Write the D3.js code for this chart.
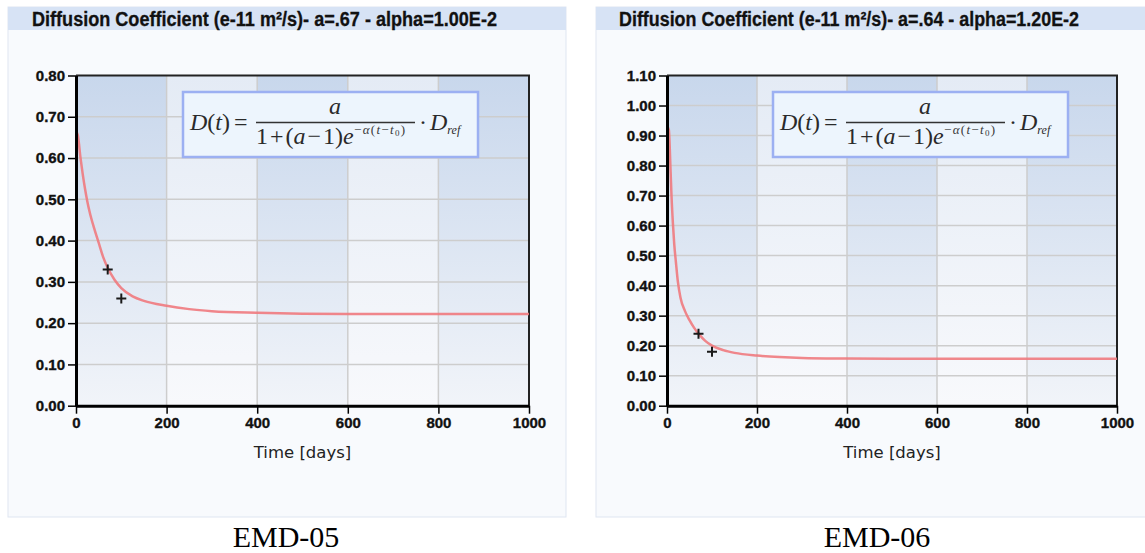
<!DOCTYPE html>
<html>
<head>
<meta charset="utf-8">
<script src="https://cdn.jsdelivr.net/npm/d3@7"></script>
<style>
  html, body { margin: 0; padding: 0; background: #ffffff; }
  svg { display: block; }
</style>
</head>
<body>
<svg id="chart" width="1145" height="553"></svg>
<script>
// ---- data ----------------------------------------------------------------
const xTicks = [0, 200, 400, 600, 800, 1000];

// fitted diffusion-coefficient curves, sampled in days
const curveDaysEMD05 = [0, 4, 10, 15, 20, 25, 30, 40, 50, 60, 70, 85, 100, 125, 150,
                        200, 250, 300, 400, 500, 600, 800, 1000];
const curveEMD05 = [0.665, 0.655, 0.60, 0.56, 0.525, 0.495, 0.47, 0.43, 0.395, 0.36,
                    0.334, 0.305, 0.285, 0.265, 0.254, 0.242, 0.234, 0.229, 0.225,
                    0.223, 0.222, 0.222, 0.222];
const curveDaysEMD06 = [0, 4, 8, 10, 13, 16, 20, 24, 30, 40, 50, 60, 70, 85, 100, 125,
                        150, 200, 250, 300, 400, 500, 600, 800, 1000];
const curveEMD06 = [0.93, 0.92, 0.78, 0.70, 0.61, 0.54, 0.475, 0.415, 0.36, 0.315,
                    0.285, 0.26, 0.24, 0.216, 0.200, 0.185, 0.176, 0.167, 0.162,
                    0.159, 0.157, 0.156, 0.156, 0.156, 0.156];

// measured values
const measuredDays = [70, 100];
const measuredEMD05 = [0.33, 0.26];
const measuredEMD06 = [0.24, 0.18];

const yTicksEMD05 = [0, 0.1, 0.2, 0.3, 0.4, 0.5, 0.6, 0.7, 0.8];
const yTicksEMD06 = [0, 0.1, 0.2, 0.3, 0.4, 0.5, 0.6, 0.7, 0.8, 0.9, 1.0, 1.1];

const titleEMD05 = "Diffusion Coefficient (e-11 m\u00B2/s)- a=.67  - alpha=1.00E-2";
const titleEMD06 = "Diffusion Coefficient (e-11 m\u00B2/s)- a=.64  - alpha=1.20E-2";
const captions = ["EMD-05", "EMD-06"];

// ---- layout ----------------------------------------------------------------
const panels = [
  { panelX: 8, panelW: 558, titleX: 32, titleW: 465, plotL: 76, plotR: 529,
    formulaX: 183, caption: captions[0], title: titleEMD05, yMax: 0.8,
    yTicks: yTicksEMD05, days: curveDaysEMD05, curve: curveEMD05, measured: measuredEMD05 },
  { panelX: 596, panelW: 560, titleX: 619, titleW: 460, plotL: 667, plotR: 1117,
    formulaX: 773, caption: captions[1], title: titleEMD06, yMax: 1.1,
    yTicks: yTicksEMD06, days: curveDaysEMD06, curve: curveEMD06, measured: measuredEMD06 }
];
const plotTop = 75.5, plotBottom = 405.7;
const panelTop = 7, panelBottom = 517;

const svg = d3.select("#chart");
const defs = svg.append("defs");

function grad(id, top, bottom) {
  const g = defs.append("linearGradient").attr("id", id)
    .attr("x1", 0).attr("y1", 0).attr("x2", 0).attr("y2", 1);
  g.append("stop").attr("offset", "0%").attr("stop-color", top);
  g.append("stop").attr("offset", "100%").attr("stop-color", bottom);
}
grad("bandDark", "#c8d7ec", "#f1f4f9");
grad("bandLight", "#e4ebf5", "#f8f9fc");

panels.forEach((p, i) => {
  const g = svg.append("g");
  const clipId = "plotClip" + i;

  // panel background and title strip
  g.append("rect").attr("x", p.panelX).attr("y", panelTop)
    .attr("width", p.panelW).attr("height", panelBottom - panelTop)
    .attr("fill", "#f8fafd").attr("stroke", "#dfe6f1").attr("stroke-width", 1);
  g.append("rect").attr("x", p.panelX).attr("y", panelTop)
    .attr("width", p.panelW).attr("height", 23)
    .attr("fill", "#d7e3f5");
  g.append("text").attr("x", p.titleX).attr("y", 25.5)
    .attr("textLength", p.titleW).attr("lengthAdjust", "spacingAndGlyphs")
    .attr("font-family", "'Liberation Sans Narrow', 'Arial Narrow', 'Liberation Sans', Arial, sans-serif")
    .attr("font-weight", "bold").attr("font-size", 19.5).attr("fill", "#111")
    .attr("stroke", "#111").attr("stroke-width", 0.3)
    .text(p.title);

  const x = d3.scaleLinear().domain([0, 1000]).range([p.plotL, p.plotR]);
  const y = d3.scaleLinear().domain([0, p.yMax]).range([plotBottom, plotTop]);

  defs.append("clipPath").attr("id", clipId).append("rect")
    .attr("x", p.plotL).attr("y", plotTop)
    .attr("width", p.plotR - p.plotL).attr("height", plotBottom - plotTop);

  // alternating shaded columns
  const bands = d3.pairs(xTicks);
  g.append("g").selectAll("rect").data(bands).join("rect")
    .attr("x", d => x(d[0])).attr("y", plotTop)
    .attr("width", d => x(d[1]) - x(d[0])).attr("height", plotBottom - plotTop)
    .attr("fill", (d, k) => k % 2 === 0 ? "url(#bandDark)" : "url(#bandLight)");

  // grid
  const grid = g.append("g").attr("stroke", "#cdcdcd").attr("stroke-width", 1.5);
  grid.selectAll("line.h").data(p.yTicks.filter(v => v > 0 && v < p.yMax - 1e-9))
    .join("line").attr("class", "h")
    .attr("x1", p.plotL).attr("x2", p.plotR)
    .attr("y1", d => y(d)).attr("y2", d => y(d));
  grid.selectAll("line.v").data(xTicks.slice(1, -1))
    .join("line").attr("class", "v")
    .attr("x1", d => x(d)).attr("x2", d => x(d))
    .attr("y1", plotTop).attr("y2", plotBottom);

  // plot frame (top / right)
  g.append("path")
    .attr("d", `M${p.plotL},${plotTop}H${p.plotR}V${plotBottom}`)
    .attr("fill", "none").attr("stroke", "#222").attr("stroke-width", 2);

  // formula box
  const fx = p.formulaX, fy = 92;
  const fg = g.append("g").attr("transform", `translate(${fx},${fy})`);
  fg.append("rect").attr("x", 0).attr("y", 0).attr("width", 295).attr("height", 65)
    .attr("fill", "#edf5fd").attr("stroke", "#9cb0f2").attr("stroke-width", 2.5);
  const serif = "'Liberation Serif', 'Times New Roman', serif";
  const lhs = fg.append("text").attr("x", 7).attr("y", 38)
    .attr("font-family", serif).attr("font-size", 24).attr("fill", "#2a2a2a");
  lhs.append("tspan").attr("font-style", "italic").text("D");
  lhs.append("tspan").text("(");
  lhs.append("tspan").attr("font-style", "italic").text("t");
  lhs.append("tspan").text(")");
  lhs.append("tspan").attr("dx", 4).text("=");
  fg.append("line").attr("x1", 73).attr("x2", 232).attr("y1", 30.5).attr("y2", 30.5)
    .attr("stroke", "#333").attr("stroke-width", 1.3);
  fg.append("text").attr("x", 152).attr("y", 22).attr("text-anchor", "middle")
    .attr("font-family", serif).attr("font-size", 24).attr("font-style", "italic")
    .attr("fill", "#2a2a2a").text("a");
  const den = fg.append("text").attr("x", 73).attr("y", 52)
    .attr("font-family", serif).attr("font-size", 24).attr("fill", "#2a2a2a");
  den.append("tspan").text("1");
  den.append("tspan").attr("dx", 2).text("+");
  den.append("tspan").attr("dx", 2).text("(");
  den.append("tspan").attr("font-style", "italic").text("a");
  den.append("tspan").attr("dx", 2).text("\u2212");
  den.append("tspan").attr("dx", 2).text("1");
  den.append("tspan").text(")");
  den.append("tspan").attr("font-style", "italic").text("e");
  const ex = fg.append("text").attr("x", 171).attr("y", 42)
    .attr("font-family", serif).attr("font-size", 13).attr("fill", "#3a3a3a")
    .attr("letter-spacing", 1.3);
  ex.append("tspan").text("\u2212");
  ex.append("tspan").attr("font-style", "italic").text("\u03B1");
  ex.append("tspan").text("(");
  ex.append("tspan").attr("font-style", "italic").text("t");
  ex.append("tspan").text("\u2212");
  ex.append("tspan").attr("font-style", "italic").text("t");
  ex.append("tspan").attr("font-size", 9).attr("dy", 2).text("0");
  ex.append("tspan").attr("dy", -2).text(")");
  const rhs = fg.append("text").attr("x", 236).attr("y", 38)
    .attr("font-family", serif).attr("font-size", 24).attr("fill", "#2a2a2a");
  rhs.append("tspan").text("\u00B7");
  rhs.append("tspan").attr("dx", 3).attr("font-style", "italic").text("D");
  rhs.append("tspan").attr("font-size", 12).attr("font-style", "italic").attr("dy", 4).text("ref");

  // fitted curve
  const line = d3.line().x((d, k) => x(p.days[k])).y(d => y(d)).curve(d3.curveMonotoneX);
  g.append("path").datum(p.curve).attr("d", line)
    .attr("clip-path", `url(#${clipId})`)
    .attr("fill", "none").attr("stroke", "#f07a7e").attr("stroke-width", 2.5)
    .attr("stroke-opacity", 0.9);

  // measured points
  g.append("g").selectAll("path").data(p.measured).join("path")
    .attr("transform", (d, k) => `translate(${x(measuredDays[k])},${y(d)})`)
    .attr("d", "M-5,0H5M0,-5V5")
    .attr("stroke", "#1a1a1a").attr("stroke-width", 2).attr("fill", "none");

  // axes
  const tickFont = "'Liberation Sans', Arial, sans-serif";
  const yAxis = g.append("g").attr("transform", `translate(${p.plotL},0)`)
    .call(d3.axisLeft(y).tickValues(p.yTicks).tickFormat(d3.format(".2f"))
      .tickSize(8).tickSizeOuter(0).tickPadding(3));
  const xAxis = g.append("g").attr("transform", `translate(0,${plotBottom})`)
    .call(d3.axisBottom(x).tickValues(xTicks).tickFormat(d3.format("d"))
      .tickSize(8).tickSizeOuter(0).tickPadding(4));
  [yAxis, xAxis].forEach(a => {
    a.select(".domain").attr("stroke", "#000").attr("stroke-width", 3);
    a.selectAll(".tick line").attr("stroke", "#000").attr("stroke-width", 1.5);
    a.selectAll(".tick text").attr("font-family", tickFont).attr("font-weight", "bold")
      .attr("font-size", 15).attr("fill", "#111")
      .attr("stroke", "#111").attr("stroke-width", 0.35);
  });

  // axis title
  g.append("text").attr("x", (p.plotL + p.plotR) / 2).attr("y", 458)
    .attr("text-anchor", "middle").attr("font-family", "'DejaVu Sans', Verdana, sans-serif")
    .attr("font-size", 16.5).attr("fill", "#222").text("Time [days]");

  // caption below panel
  svg.append("text").attr("x", i === 0 ? 286 : 877).attr("y", 547)
    .attr("text-anchor", "middle").attr("font-family", serif)
    .attr("font-size", 30).attr("fill", "#000").text(p.caption);
});
</script>
</body>
</html>
